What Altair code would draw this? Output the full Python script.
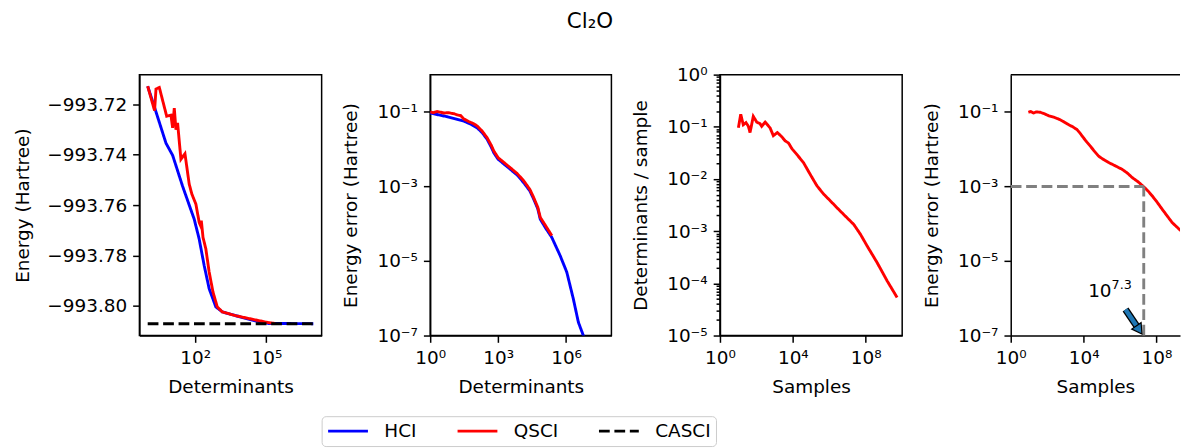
import altair as alt
import pandas as pd

FONT = "DejaVu Sans"
FS = 18.5
LW = 2.9

TITLE = "Cl₂O"
methods = ["HCI", "QSCI", "CASCI"]
method_colors = ["#0000ff", "#ff0000", "#000000"]
method_dashes = [[1, 0], [1, 0], [10.8, 4.7]]

# ---- Panel 1: energy vs number of determinants (x stored as log10) ----
p1_hci_log10_det = [0.0, 0.35, 0.77, 1.05, 1.47, 1.75, 1.96, 2.17, 2.38, 2.59, 2.87, 3.14, 3.70, 4.54, 5.10, 6.98]
p1_hci_energy = [-993.7128, -993.7230, -993.7354, -993.7402, -993.7525, -993.7600, -993.7656, -993.7735,
                 -993.7840, -993.7932, -993.8004, -993.8024, -993.8039, -993.8060, -993.8070, -993.8071]
p1_qsci_log10_det = [0.0, 0.29, 0.35, 0.49, 0.80, 0.98, 1.05, 1.12, 1.19, 1.26, 1.40, 1.57, 1.75, 1.86, 2.03,
                     2.17, 2.22, 2.26, 2.33, 2.45, 2.59, 2.75, 2.93, 3.14, 3.70, 4.54, 5.10, 5.37]
p1_qsci_energy = [-993.7128, -993.7225, -993.7139, -993.7133, -993.7247, -993.7243, -993.7293, -993.7215,
                  -993.7300, -993.7274, -993.7418, -993.7396, -993.7517, -993.7556, -993.7596, -993.7669,
                  -993.7680, -993.7662, -993.7728, -993.7774, -993.7866, -993.7945, -993.8004, -993.8024,
                  -993.8039, -993.8056, -993.8067, -993.8070]
p1_casci_log10_det = [0.0, 6.98]
p1_casci_energy = [-993.8071, -993.8071]
p1_energy_ticks = [-993.72, -993.74, -993.76, -993.78, -993.80]

# ---- Panel 2: energy error vs determinants (both stored as log10) ----
p2_hci_log10_det = [0, 0.3, 0.76, 1.2, 1.49, 1.8, 2.08, 2.3, 2.52, 2.7, 2.81, 3.0, 3.3, 3.54, 3.85, 4.13,
                    4.4, 4.57, 4.75, 4.86, 5.1, 5.37, 5.74, 6.03, 6.32, 6.54, 6.76, 6.98]
p2_hci_log10_err = [-1.03, -1.07, -1.13, -1.2, -1.25, -1.33, -1.43, -1.56, -1.74, -1.95, -2.10, -2.27, -2.42,
                    -2.54, -2.70, -2.90, -3.12, -3.34, -3.60, -3.88, -4.12, -4.37, -4.86, -5.30, -6.02,
                    -6.64, -7.0, -7.45]
p2_qsci_log10_det = [0, 0.15, 0.3, 0.47, 0.6, 0.8, 1.05, 1.2, 1.35, 1.49, 1.7, 1.9, 2.08, 2.3, 2.52, 2.7,
                     2.81, 3.0, 3.3, 3.54, 3.85, 4.13, 4.4, 4.57, 4.75, 4.86, 5.1, 5.37]
p2_qsci_log10_err = [-1.0, -1.02, -0.99, -1.01, -1.03, -1.02, -1.05, -1.08, -1.1, -1.19, -1.26, -1.31, -1.38,
                     -1.52, -1.70, -1.90, -2.05, -2.23, -2.38, -2.50, -2.66, -2.85, -3.08, -3.30, -3.56,
                     -3.83, -4.06, -4.32]

# ---- Panel 3: determinants per sample vs samples (log10) ----
p3_log10_samples = [1.01, 1.14, 1.28, 1.43, 1.56, 1.65, 1.83, 2.02, 2.20, 2.29, 2.48, 2.75, 2.93, 3.15, 3.39,
                    3.58, 3.76, 3.95, 4.22, 4.59, 4.95, 5.32, 5.69, 6.06, 6.42, 6.79, 7.34, 7.71, 8.07,
                    8.62, 9.17, 9.72]
p3_log10_dps = [-1.02, -0.76, -0.96, -0.92, -0.99, -1.11, -0.80, -0.91, -0.94, -0.99, -0.91, -1.02, -1.17,
                -1.11, -1.19, -1.27, -1.31, -1.42, -1.53, -1.69, -1.91, -2.13, -2.29, -2.42, -2.55, -2.68,
                -2.87, -3.06, -3.28, -3.60, -3.95, -4.27]

# ---- Panel 4: energy error vs samples (log10) ----
p4_log10_samples = [0.97, 1.1, 1.25, 1.4, 1.61, 1.8, 2.07, 2.35, 2.62, 2.9, 3.17, 3.4, 3.63, 3.82, 4.0, 4.18,
                    4.37, 4.6, 4.83, 5.1, 5.38, 5.75, 6.11, 6.4, 6.66, 7.0, 7.30, 7.53, 7.76, 8.03, 8.31,
                    8.6, 8.86, 9.1, 9.34, 9.72]
p4_log10_err = [-1.01, -0.99, -1.03, -1.0, -1.01, -1.04, -1.10, -1.14, -1.19, -1.26, -1.34, -1.40, -1.47,
                -1.58, -1.70, -1.81, -1.92, -2.06, -2.19, -2.28, -2.36, -2.45, -2.54, -2.64, -2.76, -2.88,
                -3.01, -3.12, -3.25, -3.42, -3.61, -3.80, -3.97, -4.08, -4.19, -4.35]
p4_target_log10_err = -3.0
p4_target_log10_samples = 7.3
p4_annot_text_main = "10"
p4_annot_text_sup = "7.3"
p4_annot_text_log10 = [5.535, -5.97]      # (samples, error) of "10"
p4_annot_sup_log10 = [5.535, -5.75]       # (samples, error) of superscript
p4_arrow_tail_log10 = [6.30, -6.30]
p4_arrow_base_log10 = [6.92, -6.75]
p4_arrow_head_log10 = [7.05, -6.85]

# ------------------------------------------------------------------
SUP = str.maketrans("0123456789-.", "⁰¹²³⁴⁵⁶⁷⁸⁹⁻·")
L10 = "(log(datum.value)/LN10)"
MINOR = f"abs({L10} - round({L10})) > 0.01"


def pow_expr(exps, skip_minor=False):
    expr = "''"
    for e in exps:
        expr = f"(round({L10}) == {e}) ? '10{str(e).translate(SUP)}' : {expr}"
    if skip_minor:
        expr = f"({MINOR}) ? '' : ({expr})"
    return expr


def frame(xs, ys, method, xlog=True, ylog=True):
    return pd.DataFrame({
        "x": [10 ** v for v in xs] if xlog else xs,
        "y": [10 ** v for v in ys] if ylog else ys,
        "method": method,
    })


legend = alt.Legend(
    title=None, orient="none", legendX=183, legendY=343, direction="horizontal", columns=3,
    symbolType="stroke", symbolSize=1600, symbolStrokeWidth=LW, labelFont=FONT, labelFontSize=FS,
    labelColor="black", labelOffset=15, columnPadding=39, padding=5, strokeColor="#cccccc",
    cornerRadius=4, fillColor="white", symbolOpacity=1, clipHeight=20,
)
color_enc = alt.Color("method:N", scale=alt.Scale(domain=methods, range=method_colors), legend=legend)
dash_enc = alt.StrokeDash("method:N", scale=alt.Scale(domain=methods, range=method_dashes), legend=legend)


def lines(df, xenc, yenc):
    return alt.Chart(df).mark_line(strokeWidth=LW, clip=True).encode(
        x=xenc, y=yenc, color=color_enc, strokeDash=dash_enc)


def xaxis(title, exps):
    return alt.Axis(title=title, values=[10 ** e for e in exps], labelExpr=pow_expr(exps),
                    titleY=57.5, titleBaseline="alphabetic")


def logy_axis(title, values, exps, skip_minor=False, tick_size=None):
    kw = dict(title=title, values=values, labelExpr=pow_expr(exps, skip_minor), titleX=-74,
              titleBaseline="alphabetic")
    if tick_size is not None:
        kw["tickSize"] = tick_size
    return alt.Axis(**kw)


W, H = 183, 262

# Panel 1
x1 = alt.X("x:Q", scale=alt.Scale(type="log", domain=[10 ** -0.349, 10 ** 7.329], nice=False),
           axis=xaxis("Determinants", [2, 5]))
y1 = alt.Y("y:Q", scale=alt.Scale(domain=[-993.8118, -993.7082], nice=False, zero=False),
           axis=alt.Axis(title="Energy (Hartree)", values=p1_energy_ticks, format=".2f",
                         labelExpr="replace(datum.label, '-', '−')", titleX=-111.6,
                         titleBaseline="alphabetic"))
p1 = alt.layer(
    lines(frame(p1_hci_log10_det, p1_hci_energy, "HCI", ylog=False), x1, y1),
    lines(frame(p1_qsci_log10_det, p1_qsci_energy, "QSCI", ylog=False), x1, y1),
    lines(frame(p1_casci_log10_det, p1_casci_energy, "CASCI", ylog=False), x1, y1),
).properties(width=W, height=H)

# Panel 2
x2 = alt.X("x:Q", scale=alt.Scale(type="log", domain=[1, 1e8], nice=False),
           axis=xaxis("Determinants", [0, 3, 6]))
y2 = alt.Y("y:Q", scale=alt.Scale(type="log", domain=[1e-7, 1], nice=False),
           axis=logy_axis("Energy error (Hartree)", [1e-1, 1e-3, 1e-5, 1e-7], [-1, -3, -5, -7]))
p2 = alt.layer(
    lines(frame(p2_hci_log10_det, p2_hci_log10_err, "HCI"), x2, y2),
    lines(frame(p2_qsci_log10_det, p2_qsci_log10_err, "QSCI"), x2, y2),
).properties(width=182, height=H)

# Panel 3
minor_vals = [1.0]
for k in range(-5, 0):
    minor_vals += [m * 10 ** k for m in range(1, 10)]
x3 = alt.X("x:Q", scale=alt.Scale(type="log", domain=[1, 1e10], nice=False),
           axis=xaxis("Samples", [0, 4, 8]))
y3 = alt.Y("y:Q", scale=alt.Scale(type="log", domain=[1e-5, 1], nice=False),
           axis=logy_axis("Determinants / sample", minor_vals, [0, -1, -2, -3, -4, -5], skip_minor=True,
                          tick_size={"condition": {"test": MINOR, "value": 3.9}, "value": 6.8}))
p3 = alt.layer(
    lines(frame(p3_log10_samples, p3_log10_dps, "QSCI"), x3, y3),
).properties(width=W, height=H)

# Panel 4
W4 = 170
x4 = alt.X("x:Q", scale=alt.Scale(type="log", domain=[1, 10 ** 9.29], nice=False),
           axis=xaxis("Samples", [0, 4, 8]))
y4 = alt.Y("y:Q", scale=alt.Scale(type="log", domain=[1e-7, 1], nice=False),
           axis=logy_axis("Energy error (Hartree)", [1e-1, 1e-3, 1e-5, 1e-7], [-1, -3, -5, -7]))
guides = pd.DataFrame({
    "x": [1.0, 10 ** p4_target_log10_samples],
    "x2": [10 ** p4_target_log10_samples, 10 ** p4_target_log10_samples],
    "y": [10 ** p4_target_log10_err, 1e-7],
    "y2": [10 ** p4_target_log10_err, 10 ** p4_target_log10_err],
})
guide_layer = alt.Chart(guides).mark_rule(color="#808080", strokeWidth=LW, strokeDash=[10.8, 4.7]).encode(
    x=alt.X("x:Q"), x2="x2:Q", y=alt.Y("y:Q"), y2="y2:Q")
arrow_df = pd.DataFrame({
    "x": [10 ** p4_arrow_tail_log10[0], 10 ** p4_arrow_base_log10[0]],
    "y": [10 ** p4_arrow_tail_log10[1], 10 ** p4_arrow_base_log10[1]],
})
shaft_out = alt.Chart(arrow_df).mark_line(color="black", strokeWidth=7, strokeCap="butt").encode(
    x="x:Q", y="y:Q")
shaft_in = alt.Chart(arrow_df).mark_line(color="#1f77b4", strokeWidth=4.4, strokeCap="butt").encode(
    x="x:Q", y="y:Q")
head_df = pd.DataFrame({"x": [10 ** p4_arrow_head_log10[0]], "y": [10 ** p4_arrow_head_log10[1]]})
head = alt.Chart(head_df).mark_point(shape="triangle-up", filled=True, fill="#1f77b4", stroke="black",
                                     strokeWidth=1.2, size=130, angle=145.7, opacity=1).encode(
    x="x:Q", y="y:Q")
txt_df = pd.DataFrame({"x": [10 ** p4_annot_text_log10[0]], "y": [10 ** p4_annot_text_log10[1]],
                       "t": [p4_annot_text_main]})
sup_df = pd.DataFrame({"x": [10 ** p4_annot_sup_log10[0]], "y": [10 ** p4_annot_sup_log10[1]],
                       "t": [p4_annot_text_sup]})
txt = alt.Chart(txt_df).mark_text(align="right", baseline="alphabetic", font=FONT, fontSize=FS,
                                  color="black").encode(x="x:Q", y="y:Q", text="t:N")
sup = alt.Chart(sup_df).mark_text(align="left", baseline="alphabetic", font=FONT, fontSize=12.8,
                                  color="black").encode(x="x:Q", y="y:Q", text="t:N")
top_border = alt.Chart(pd.DataFrame({"a": [0]})).mark_rule(color="black", strokeWidth=1.5).encode(
    x=alt.value(0), x2=alt.value(W4), y=alt.value(0))
p4 = alt.layer(
    lines(frame(p4_log10_samples, p4_log10_err, "QSCI"), x4, y4),
    guide_layer, shaft_out, shaft_in, head, txt, sup, top_border,
).properties(width=W4, height=H, view=alt.ViewBackground(stroke="transparent"))

chart = alt.hconcat(p1, p2, p3, p4, spacing=109, bounds="flush").resolve_scale(
    color="shared", strokeDash="shared"
).properties(
    title=alt.TitleParams(TITLE, font=FONT, fontSize=21.5, fontWeight="normal", color="black",
                          anchor="middle", frame="group", dx=452.5, offset=15.5, baseline="alphabetic"),
    padding={"left": 12, "top": 10, "right": 0, "bottom": 0},
    background="white",
).configure_view(stroke="black", strokeWidth=1.5).configure_axis(
    labelFont=FONT, titleFont=FONT, labelFontSize=FS, titleFontSize=FS, titleFontWeight="normal",
    labelColor="black", titleColor="black", tickColor="black", domainColor="black", tickSize=6.8,
    tickWidth=1.5, domainWidth=1.5, grid=False, labelPadding=6, labelFlush=False, labelOverlap=False,
)

chart.save("out.html", embed_options={"renderer": "svg", "actions": False})
